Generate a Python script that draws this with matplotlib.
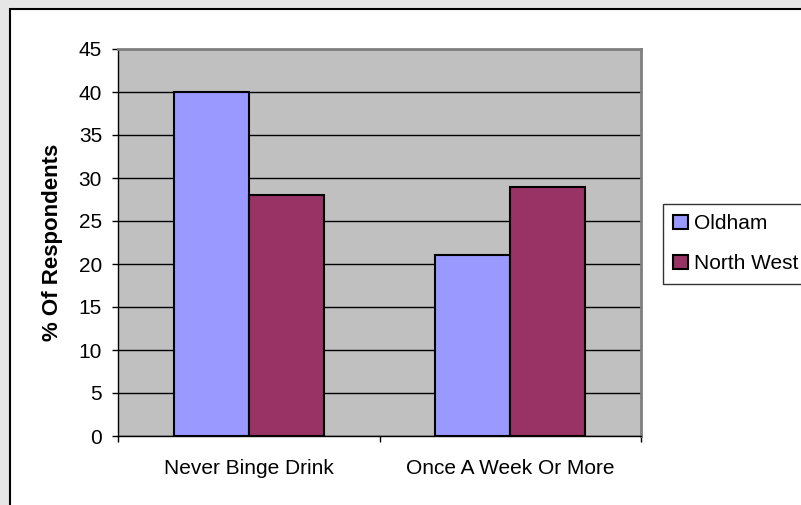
import matplotlib
matplotlib.use("Agg")
import matplotlib.pyplot as plt
from matplotlib.patches import Rectangle
import numpy as np

categories = ["Never Binge Drink", "Once A Week Or More"]
series_names = ["Oldham", "North West"]
oldham = [40, 21]
north_west = [28, 29]
yticks = [0, 5, 10, 15, 20, 25, 30, 35, 40, 45]

plt.rcParams['font.family'] = ['Liberation Sans', 'DejaVu Sans']

W, H = 801, 505
FS = 15
fig = plt.figure(figsize=(W / 100, H / 100), dpi=100)
fig.patch.set_facecolor('#E6E6E6')

panel = Rectangle((10 / W, -0.05), 1.1, 1 - 9 / H + 0.05, transform=fig.transFigure,
                  facecolor='white', edgecolor='black', linewidth=1.5, zorder=-10)
fig.add_artist(panel)

ax = fig.add_axes([118 / W, 1 - 436 / H, (641 - 118) / W, (436 - 49) / H])
ax.set_zorder(1)
ax.set_facecolor('#C0C0C0')

x = np.arange(len(categories))
bw = 75 / 261.5
ax.bar(x - bw / 2, oldham, bw, color='#9999FF', edgecolor='black', linewidth=1.5,
       label=series_names[0], zorder=3)
ax.bar(x + bw / 2, north_west, bw, color='#993366', edgecolor='black', linewidth=1.5,
       label=series_names[1], zorder=3)

ax.set_xlim(-0.5, len(categories) - 0.5)
ax.set_ylim(0, 45)
ax.set_yticks(yticks)
ax.set_yticklabels([str(v) for v in yticks], fontsize=FS)
ax.yaxis.grid(True, color='black', linewidth=1)
ax.set_axisbelow(True)

ax.set_xticks(np.arange(len(categories) + 1) - 0.5)
ax.set_xticklabels([])
ax.set_xticks(x, minor=True)
ax.set_xticklabels(categories, minor=True, fontsize=FS)
ax.tick_params(axis='x', which='minor', length=0, pad=16.5)
ax.tick_params(axis='x', which='major', length=4.5, width=1, color='black', direction='out')
ax.tick_params(axis='y', length=4.5, width=1, direction='out', pad=7)

for s in ['left', 'bottom']:
    ax.spines[s].set_color('black')
    ax.spines[s].set_linewidth(1)
for s in ['top', 'right']:
    ax.spines[s].set_color('#808080')
    ax.spines[s].set_linewidth(2)

ax.set_ylabel("% Of Respondents", fontsize=16, fontweight='bold', labelpad=11)

leg = fig.legend(loc='upper left', bbox_to_anchor=(663 / W, 1 - 204 / H), fontsize=FS,
                 frameon=True, fancybox=False, edgecolor='black', handlelength=0.7,
                 handleheight=0.7, handletextpad=0.3, borderpad=0.5, labelspacing=1.0,
                 borderaxespad=0)
leg.get_frame().set_linewidth(1)

fig.savefig("out.png", dpi=100, facecolor=fig.get_facecolor())
